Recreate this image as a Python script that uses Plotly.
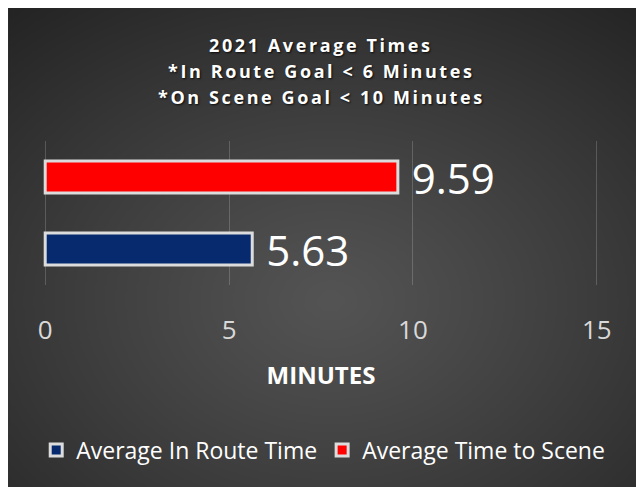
import base64, struct, zlib
import numpy as np
import plotly.graph_objects as go

# ---- data ----
categories = ["2021"]
series_names = ["Average In Route Time", "Average Time to Scene"]
series_values = [[5.63], [9.59]]
series_colors = ["#072a6e", "#ff0000"]
tick_values = [0, 5, 10, 15]
tick_labels = ["0", "5", "10", "15"]
title_lines = ["2021 Average Times", "*In Route Goal < 6 Minutes", "*On Scene Goal < 10 Minutes"]

# ---- radial gradient background image (PNG via stdlib) ----
def png_data_uri(arr):
    h, w, _ = arr.shape
    raw = b"".join(b"\x00" + arr[i].tobytes() for i in range(h))
    def chunk(tag, data):
        c = struct.pack(">I", len(data)) + tag + data
        return c + struct.pack(">I", zlib.crc32(tag + data) & 0xffffffff)
    png = b"\x89PNG\r\n\x1a\n" + chunk(b"IHDR", struct.pack(">IIBBBBB", w, h, 8, 2, 0, 0, 0))
    png += chunk(b"IDAT", zlib.compress(raw, 9)) + chunk(b"IEND", b"")
    return "data:image/png;base64," + base64.b64encode(png).decode()

W, H = 322, 244
yy, xx = np.mgrid[0:H, 0:W]
cx, cy = 0.5 * W, 0.6 * H
r = np.sqrt(((xx - cx) / (0.62 * W)) ** 2 + ((yy - cy) / (0.62 * H)) ** 2)
r = np.clip(r / r.max(), 0, 1)
inner, outer = 84.0, 36.0
val = outer + (inner - outer) * (1 - r ** 1.1)
img = np.clip(np.stack([val, val, val], axis=-1), 0, 255).astype(np.uint8)
bg_uri = png_data_uri(img)

# ---- geometry (pixels, figure coordinates) ----
FW, FH = 644, 487
XMIN, XMAX, PAD = 0, 15, 0.06
unit = 36.8
L = 37 - PAD * unit
pw = (XMAX - XMIN + 2 * PAD) * unit
T, ph = 133, 144
R, B = FW - L - pw, FH - T - ph
def px_x(p): return (p - L) / pw
def px_y(p): return (FH - B - p) / ph

fig = go.Figure()
for name, vals, col in zip(series_names, series_values, series_colors):
    fig.add_trace(go.Bar(
        y=categories, x=vals, name=name, orientation="h",
        marker=dict(color=col, line=dict(color="#dcdcdc", width=3)),
        texttemplate=" %{x:.2f}", textposition="outside", constraintext="none",
        cliponaxis=False,
        textfont=dict(family="Open Sans", size=42, color="white"),
    ))

title_y = [36.5, 62.5, 88.5]
annotations = [
    dict(text='<span style="letter-spacing:2.6px">' + t + "</span>",
         x=0.5, xref="paper", xanchor="center",
         y=px_y(yp), yref="paper", yanchor="middle", showarrow=False,
         font=dict(family="Open Sans", size=18, color="white", weight="bold",
                   shadow="1px 1px 2px rgba(0,0,0,0.8)"))
    for t, yp in zip(title_lines, title_y)
]

fig.update_layout(
    width=FW, height=FH,
    margin=dict(l=L, r=R, t=T, b=B, autoexpand=False),
    paper_bgcolor="#3a3a3a", plot_bgcolor="rgba(0,0,0,0)",
    barmode="group", bargap=0.0, bargroupgap=0.556,
    showlegend=True,
    annotations=annotations,
    xaxis=dict(
        range=[XMIN - PAD, XMAX + PAD], tickvals=tick_values, ticktext=tick_labels,
        showgrid=True, gridcolor="rgba(255,255,255,0.18)", gridwidth=1,
        zeroline=False, showline=False, ticks="", ticklabelstandoff=27,
        tickfont=dict(family="Open Sans", size=26, color="#d9d9d9"),
        title=dict(text="MINUTES", standoff=21,
                   font=dict(family="Open Sans", size=24, color="white", weight="bold")),
        fixedrange=True,
    ),
    yaxis=dict(visible=False, fixedrange=True),
    legend=dict(
        orientation="h", xref="paper", x=px_x(28), xanchor="left",
        yref="paper", y=px_y(442), yanchor="middle",
        font=dict(family="Open Sans", size=23, color="white"),
        bgcolor="rgba(0,0,0,0)", traceorder="normal",
    ),
    images=[dict(
        source=bg_uri, xref="paper", yref="paper",
        x=px_x(0), y=px_y(0), sizex=px_x(FW) - px_x(0), sizey=px_y(0) - px_y(FH),
        xanchor="left", yanchor="top", sizing="stretch", layer="below",
    )],
)

fig.write_html("out.html")
